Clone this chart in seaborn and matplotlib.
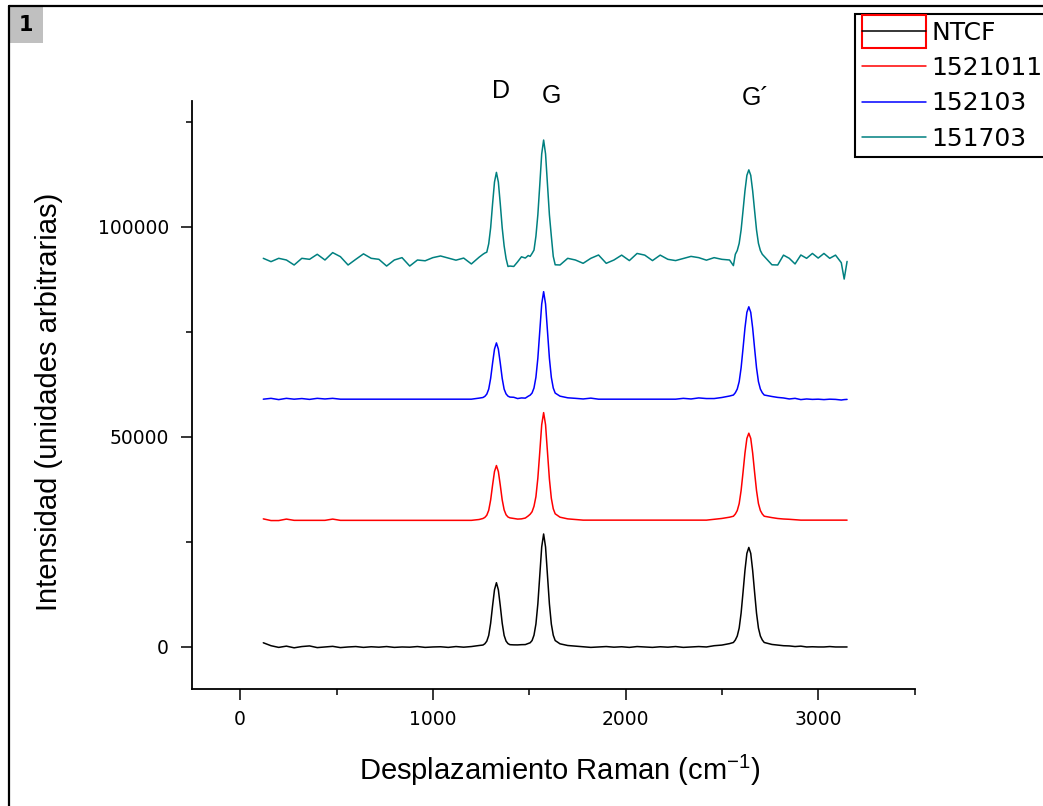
import numpy as np
import pandas as pd
import seaborn as sns
import matplotlib
matplotlib.use("Agg")
import matplotlib.pyplot as plt
from matplotlib.patches import Rectangle
from matplotlib.lines import Line2D
from matplotlib.legend_handler import HandlerBase
from matplotlib.ticker import MultipleLocator

# Raman shift sampling (cm-1)
raman_shift = [120, 160, 200, 240, 280, 320, 360, 400, 440, 480, 520, 560, 600, 640, 680,
               720, 760, 800, 840, 880, 920, 960, 1000, 1040, 1080, 1120, 1160, 1200, 1240,
               1260, 1270, 1280, 1290, 1300, 1310, 1320, 1330, 1340, 1350, 1360, 1370, 1380, 1390, 1400,
               1420, 1440, 1460, 1480, 1495,
               1505, 1515, 1525, 1535, 1545, 1555, 1565, 1575, 1585, 1595, 1605, 1615, 1625, 1635,
               1660, 1700, 1740, 1780, 1820, 1860, 1900, 1940, 1980, 2020, 2060, 2100, 2140, 2180,
               2220, 2260, 2300, 2340, 2380, 2420, 2460, 2500, 2540,
               2560, 2570, 2580, 2590, 2600, 2610, 2620, 2630, 2640, 2650, 2660, 2670, 2680, 2690,
               2700, 2710, 2720,
               2760, 2790, 2820, 2850, 2880, 2910, 2940, 2970, 3000, 3030, 3060, 3090, 3120, 3135, 3150]

ntcf = [1000, 300, -100, 200, -200, 100, 250, -150, 0, 150, -150, 0, 100, -100, 50,
        -50, 100, -100, 0, -50, 100, -100, 0, 50, -100, 100, -50, 100, 350,
        460, 770, 1380, 2750, 5660, 9790, 13620, 15300, 13620, 9790, 5660, 2750, 1400, 800, 550,
        500, 490, 550, 570, 830,
        1000, 1530, 2800, 5460, 10250, 17000, 23800, 26900, 23800, 17000, 10250, 5460, 2800, 1530,
        750, 350, 200, 50, -100, 0, 100, -50, 50, -100, 100, 0, -100, 50,
        -50, 100, -100, 0, 100, 0, 300, 450, 800,
        1070, 1660, 2610, 4500, 8060, 13040, 18250, 22280, 23700, 22280, 18250, 13040, 8060, 4500,
        2610, 1660, 1070,
        600, 450, 300, 250, 100, 200, 0, 50, 0, 0, 100, 0, 0, 0, 0]

m1521011 = [30500, 30100, 30100, 30450, 30150, 30150, 30150, 30150, 30150, 30450, 30150, 30150, 30150, 30150, 30150,
            30150, 30150, 30150, 30150, 30150, 30150, 30150, 30150, 30150, 30150, 30150, 30150, 30150, 30350,
            30590, 30850, 31370, 32540, 35010, 38520, 41770, 43200, 41770, 38520, 35010, 32640, 31470, 30950, 30740,
            30600, 30450, 30500, 30700, 31200,
            31600, 32200, 33500, 35800, 40200, 46400, 52900, 55800, 52900, 46400, 39950, 35400, 32900, 31700,
            30900, 30500, 30350, 30200, 30200, 30200, 30200, 30200, 30200, 30200, 30200, 30200, 30200, 30200,
            30200, 30200, 30200, 30200, 30200, 30200, 30400, 30600, 30900,
            31130, 31650, 32480, 34130, 37240, 41590, 46140, 49660, 50900, 49660, 46140, 41590, 37240, 34130,
            32480, 31650, 31130,
            30800, 30590, 30470, 30400, 30300, 30200, 30200, 30200, 30200, 30200, 30200, 30200, 30200, 30200, 30200]

m152103 = [59000, 59200, 58900, 59200, 59000, 59150, 58950, 59200, 59050, 59200, 59000, 59000, 59000, 59000, 59000,
           59000, 59000, 59000, 59000, 59000, 59000, 59000, 59000, 59000, 59000, 59000, 59000, 59000, 59250,
           59400, 59670, 60210, 61410, 63960, 67580, 70930, 72400, 70930, 67580, 63960, 61410, 60260, 59720, 59500,
           59450, 59150, 59300, 59250, 59700,
           59950, 60460, 61660, 64200, 68750, 75180, 81660, 84600, 81660, 75180, 68750, 64200, 61660, 60460,
           59720, 59330, 59200, 59050, 59250, 59000, 59000, 59000, 59000, 59000, 59000, 59000, 59000, 59000,
           59000, 59000, 59200, 59050, 59300, 59150, 59150, 59400, 59750,
           59990, 60540, 61420, 63180, 66480, 71100, 75940, 79680, 81000, 79680, 75940, 71100, 66480, 63180,
           61420, 60540, 59990,
           59640, 59420, 59290, 59050, 59200, 58900, 59050, 58950, 59000, 58900, 59000, 58950, 58800, 58900, 58950]

m151703 = [92540, 91750, 92540, 92140, 90950, 92540, 92300, 93500, 92140, 93900, 92940, 90950, 92300, 93600, 92540,
           92300, 90700, 92140, 92700, 90700, 92140, 91950, 92700, 93100, 92600, 92100, 92600, 91200, 92800,
           93500, 93800, 94000, 96000, 99800, 105500, 110700, 113000, 110700, 105500, 99800, 95500, 92500, 90600, 90700,
           90600, 91700, 92900, 92600, 93200,
           93000, 93700, 94500, 97800, 102900, 110000, 117400, 120700, 117400, 110100, 102900, 97800, 93000, 91000,
           90950, 92540, 92140, 91350, 92540, 93330, 91350, 92140, 93300, 92000, 93700, 93300, 92000, 93300,
           92300, 92000, 92500, 93000, 92700, 92100, 92700, 92300, 92140,
           90800, 93500, 94400, 96100, 99300, 103900, 108600, 112300, 113600, 112300, 108600, 103900, 99300, 96100,
           94400, 93500, 93000,
           91000, 90950, 93300, 92540, 91200, 93330, 92540, 93700, 92600, 93700, 92540, 93300, 91500, 87600, 91800]

samples = ["NTCF", "1521011", "152103", "151703"]
colors = ["#000000", "#ff0000", "#0000ff", "#008080"]
peak_names = ["D", "G", "G\u00b4"]

frames = []
for name, vals in zip(samples, [ntcf, m1521011, m152103, m151703]):
    frames.append(pd.DataFrame({"shift": raman_shift, "intensity": vals, "muestra": name}))
df = pd.concat(frames, ignore_index=True)


class BoxedLineHandler(HandlerBase):
    """Origin draws the first legend entry with a red box around the line"""
    def create_artists(self, legend, orig_handle, xdescent, ydescent, width, height,
                       fontsize, trans):
        extra = 0.31 * fontsize
        rect = Rectangle((-xdescent, -ydescent - extra), width, height + 2 * extra,
                         facecolor="none", edgecolor="red", linewidth=1.5, transform=trans)
        ymid = height / 2 - ydescent
        line = Line2D([-xdescent, width - xdescent], [ymid, ymid],
                      color=orig_handle.get_color(), linewidth=1.1, transform=trans)
        return [rect, line]


sns.set_style("ticks")
plt.rcParams["font.family"] = ["DejaVu Sans"]
plt.rcParams["mathtext.fontset"] = "custom"
plt.rcParams["mathtext.rm"] = "Liberation Sans"
plt.rcParams["mathtext.default"] = "regular"
for k in ["text.color", "axes.labelcolor", "xtick.color", "ytick.color", "axes.edgecolor"]:
    plt.rcParams[k] = "black"

fig = plt.figure(figsize=(10.43, 8.06), dpi=100)
ax = fig.add_axes([0.1841, 0.1452, 0.6927, 0.7295])

sns.lineplot(data=df, x="shift", y="intensity", hue="muestra", palette=colors,
             hue_order=samples, sort=False, estimator=None, legend=False,
             linewidth=1.1, ax=ax)

ax.set_xlim(-250, 3500)
ax.set_ylim(-10000, 130000)
ax.set_xticks([0, 1000, 2000, 3000])
ax.set_yticks([0, 50000, 100000])
ax.xaxis.set_minor_locator(MultipleLocator(500))
ax.yaxis.set_minor_locator(MultipleLocator(25000))
ax.tick_params(which="major", direction="out", length=8, width=1.1, labelsize=13.5)
ax.tick_params(which="minor", direction="out", length=4, width=1.1)
ax.tick_params(axis="x", which="major", pad=7)
ax.tick_params(axis="y", which="major", pad=8.5)
for s in ["top", "right"]:
    ax.spines[s].set_visible(False)
for s in ["left", "bottom"]:
    ax.spines[s].set_linewidth(1.3)

ax.set_xlabel("Desplazamiento Raman (cm$^{-1}$)", family="Liberation Sans", fontsize=21)
ax.set_ylabel("Intensidad (unidades arbitrarias)", family="Liberation Sans", fontsize=21)
ax.xaxis.set_label_coords(0.509, -0.108)
ax.yaxis.set_label_coords(-0.1785, 0.488)

# peak labels above the spectra
for name, xp, yp in zip(peak_names, [1353, 1617, 2673], [132300, 131200, 130800]):
    ax.text(xp, yp, name, ha="center", va="center", fontsize=18,
            family="Liberation Sans", clip_on=False)

# legend
handles = [Line2D([], [], color=c, linewidth=1.1) for c in colors]
leg = ax.legend(handles, samples, handler_map={handles[0]: BoxedLineHandler()},
                loc="upper left", bbox_to_anchor=(855 / 1043, 1 - 14 / 806),
                bbox_transform=fig.transFigure, borderaxespad=0,
                prop={"family": "DejaVu Sans", "size": 18},
                handlelength=2.56, handletextpad=0.24,
                labelspacing=0.45, borderpad=0.27, frameon=True, fancybox=False,
                edgecolor="black", framealpha=1)
leg.get_frame().set_linewidth(1.5)

# page frame and panel number
fig.add_artist(Line2D([8.5 / 1043, 1], [1 - 5.5 / 806, 1 - 5.5 / 806],
                      transform=fig.transFigure, color="black", linewidth=1.6))
fig.add_artist(Line2D([8.5 / 1043, 8.5 / 1043], [0, 1 - 5.5 / 806],
                      transform=fig.transFigure, color="black", linewidth=1.6))
fig.add_artist(Rectangle((10 / 1043, 1 - 43 / 806), 33 / 1043, 36 / 806,
                         transform=fig.transFigure, facecolor="#c0c0c0", edgecolor="none"))
fig.text(26 / 1043, 1 - 25 / 806, "1", ha="center", va="center", fontsize=15,
         fontweight="bold")

fig.savefig("out.png", dpi=100)
